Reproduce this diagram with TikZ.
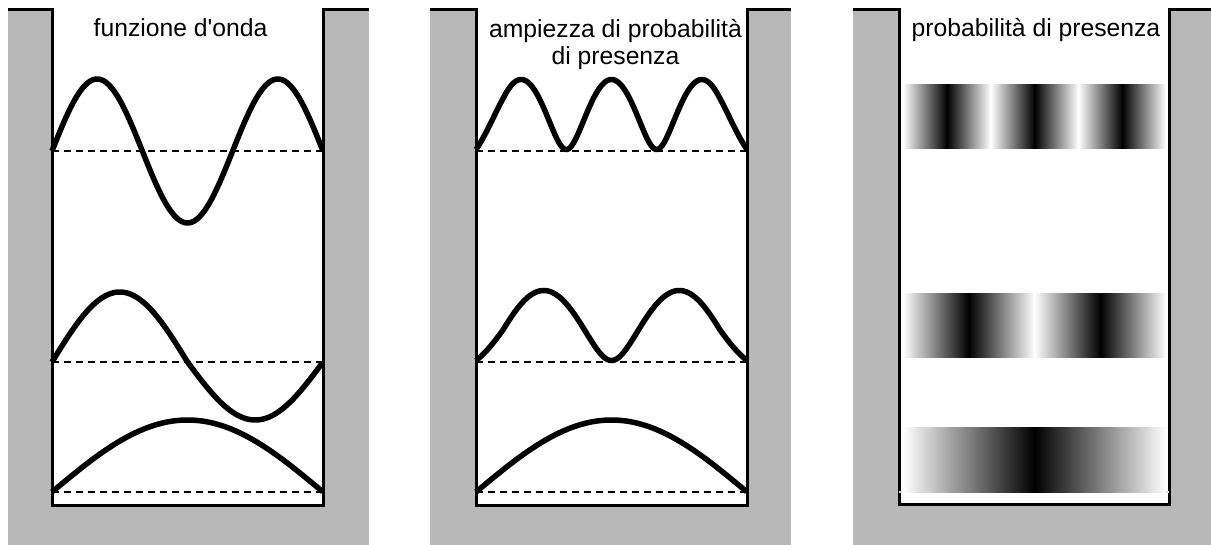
\documentclass[tikz,border=0pt]{standalone}
\usepackage{fontspec}
\setmainfont{Liberation Sans}[Ligatures=TeXOff]
\definecolor{wallgray}{RGB}{184,184,184}
\begin{document}
\begin{tikzpicture}[x=1pt,y=-1pt,
  wall/.style={line width=3pt},
  wave/.style={line width=5.5pt, line join=round},
  baseline/.style={line width=1.5pt, dash pattern=on 7pt off 5pt},
  faintbase/.style={line width=1.5pt, dash pattern=on 7pt off 5pt, black!12},
  title/.style={font=\fontsize{24.7}{27}\selectfont, inner sep=0pt, align=center},
  well/.style={fill=white},
  declare function={rab(\s,\e)=(sqrt(\s*\s+\e*\e)-\e)/(sqrt(1+\e*\e)-\e);
                    ee(\t)=0.5*min(1,10*min(\t,1-\t));}]
\useasboundingbox (0,0) rectangle (1211,545);
\clip (0,0) rectangle (1211,545);

% ---------- panel 1: wave function ----------
\fill[wallgray] (8,10) rectangle (369,545);
\fill[well] (52,9) rectangle (323,505);
\draw[wall] (8,10) -- (52,10) -- (52,505) -- (323,505) -- (323,10) -- (369,10);
\foreach \yb in {151,362,492} \draw[baseline] (52,\yb) -- (323,\yb);
\draw[wave] plot[domain=0:1, samples=120] ({52+271*\x},{151-72*sin(540*\x)});
\draw[wave] plot[domain=0:1, samples=120] ({52+271*\x},{362-(sin(360*\x)>0 ? 70 : 58)*sin(360*\x)});
\draw[wave] plot[domain=0:1, samples=120] ({52+271*\x},{492-72*sin(180*\x)});
\node[title, anchor=base] (t1) at (180.5,37) {funzione d'onda};

% ---------- panel 2: probability amplitude ----------
\begin{scope}[xshift=424pt]
\fill[wallgray] (6,10) rectangle (367,545);
\fill[well] (52,9) rectangle (323,505);
\draw[wall] (6,10) -- (52,10) -- (52,505) -- (323,505) -- (323,10) -- (367,10);
\foreach \yb in {151,362,492} \draw[baseline] (52,\yb) -- (323,\yb);
\draw[wave] plot[domain=0:1, samples=200] ({52+271*\x},{149.5-70*rab(sin(540*\x),ee(\x))});
\draw[wave] plot[domain=0:1, samples=200] ({52+271*\x},{360.5-70*rab(sin(360*\x),ee(\x))});
\draw[wave] plot[domain=0:1, samples=120] ({52+271*\x},{492-72*sin(180*\x)});
\node[title, anchor=base] (t2) at (191.5,65) {ampiezza di probabilità\\di presenza};
\end{scope}

% ---------- panel 3: probability of presence ----------
\fill[wallgray] (853,10) rectangle (1214,545);
\fill[well] (899,9) rectangle (1169,504);
\draw[wall] (853,10) -- (899,10) -- (899,504) -- (1169,504) -- (1169,10) -- (1214,10);
\draw[faintbase] (899,492) -- (1169,492);
\foreach \n/\yt in {3/85,2/294,1/428} {
  \pgfmathsetmacro\w{263/\n}
  \foreach \k in {1,...,\n} {
    \pgfmathsetmacro\xa{903+(\k-1)*\w}
    \pgfmathsetmacro\xm{\xa+\w/2}
    \pgfmathsetmacro\xb{\xa+\w}
    \shade[left color=white, right color=black] (\xa,\yt) rectangle (\xm+0.4,\yt+64);
    \shade[left color=black, right color=white] (\xm,\yt) rectangle (\xb,\yt+64);
  }
}
\node[title, anchor=base] (t3) at (1036,37) {probabilità di presenza};
\end{tikzpicture}
\end{document}
